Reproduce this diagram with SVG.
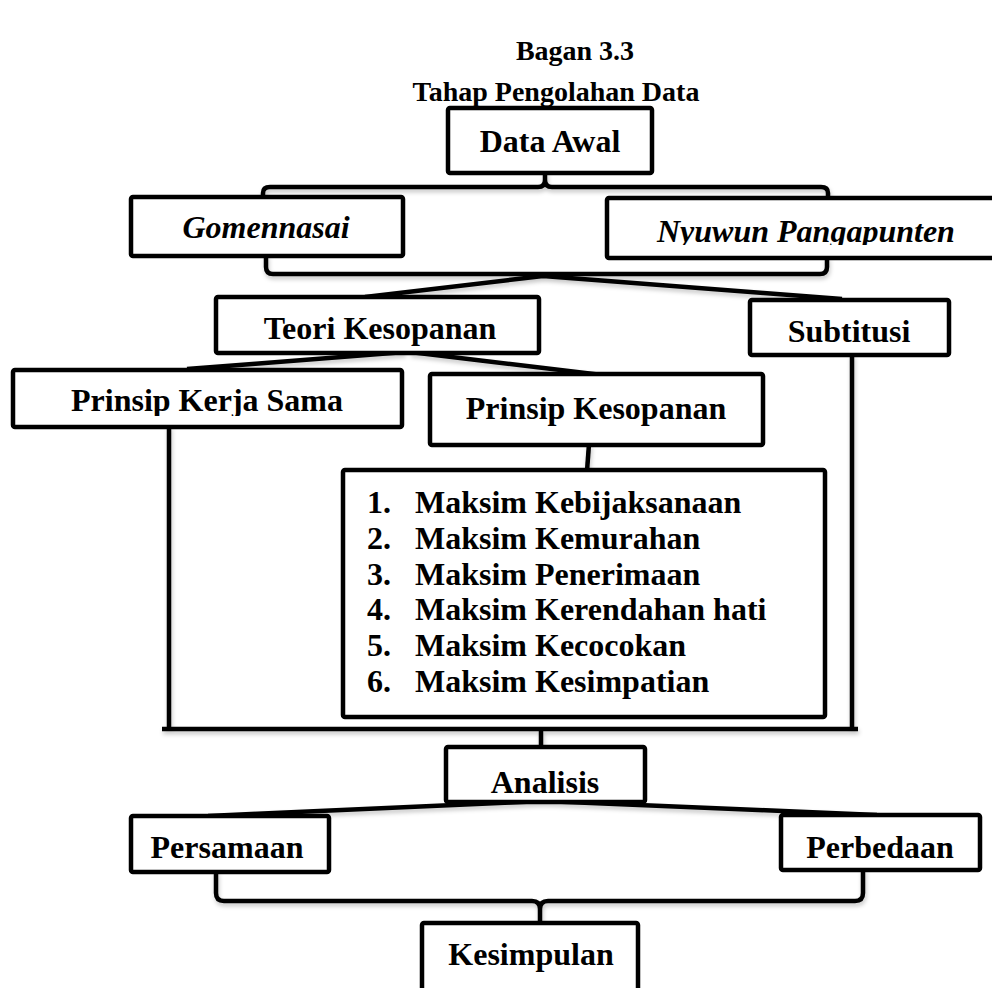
<svg xmlns="http://www.w3.org/2000/svg" width="992" height="988" viewBox="0 0 992 988">
<style>
.box{fill:#fff;stroke:#000;stroke-width:4.5;stroke-linejoin:round}
.ln{fill:none;stroke:#000;stroke-width:4.5;stroke-linejoin:round;stroke-linecap:butt}
.t{font-family:"Liberation Serif","Times New Roman",serif;font-weight:bold;font-size:32px;fill:#000}
.c{text-anchor:middle}
.i{font-style:italic}
.title{font-size:28px}
</style>
<defs>
<filter id="sh" filterUnits="userSpaceOnUse" x="0" y="0" width="992" height="988">
<feDropShadow dx="1" dy="3" stdDeviation="2" flood-color="#000" flood-opacity="0.22"/>
</filter>
<clipPath id="clipNy"><rect x="600" y="190" width="400" height="55"/></clipPath>
<clipPath id="clipPk"><rect x="10" y="365" width="400" height="51"/></clipPath>
</defs>
<rect width="992" height="988" fill="#fff"/>

<g id="title">
<text class="t title c" x="575" y="60">Bagan 3.3</text>
<text class="t title c" x="556" y="101">Tahap Pengolahan Data</text>
</g>

<g id="connectors" filter="url(#sh)">
<path class="ln" d="M263,199 V193 Q263,187 270,187 H538 Q545,187 545,180 V172 M545,180 Q545,187 552,187 H821 Q828,187 828,193 V199"/>
<path class="ln" d="M266,255 V267 Q266,274 273,274 H820 Q827,274 827,267 V257"/>
<path class="ln" d="M543,276 L365,297 M543,276 L842,299"/>
<path class="ln" d="M405,352 L187,369 M410,352 L602,375"/>
<path class="ln" d="M589,444 L587,471"/>
<path class="ln" d="M169,426 V729 M162,729 H858 M852,354 V731"/>
<path class="ln" d="M541,729 V748"/>
<path class="ln" d="M543,801 L208,816 M543,801 L877,815"/>
<path class="ln" d="M216,871 V893 Q216,901 224,901 H532 Q540,901 540,909 V924 M540,909 Q540,901 548,901 H855 Q863,901 863,893 V869"/>
</g>

<g id="data-awal">
<rect class="box" x="448" y="108" width="204" height="65" rx="2"/>
<text class="t c" x="550" y="152">Data Awal</text>
</g>

<g id="gomennasai">
<rect class="box" x="131" y="197" width="272" height="59" rx="2"/>
<text class="t c i" x="266" y="238">Gomennasai</text>
</g>

<g id="nyuwun-pangapunten">
<rect class="box" x="607" y="198" width="400" height="60" rx="2"/>
<text class="t i" x="657" y="242" clip-path="url(#clipNy)">Nyuwun Pangapunten</text>
</g>

<g id="teori-kesopanan">
<rect class="box" x="216" y="297" width="323" height="56" rx="2"/>
<text class="t c" x="380" y="339">Teori Kesopanan</text>
</g>

<g id="subtitusi">
<rect class="box" x="750" y="300" width="199" height="55" rx="2"/>
<text class="t c" x="849" y="342">Subtitusi</text>
</g>

<g id="prinsip-kerja-sama">
<rect class="box" x="13" y="370" width="389" height="57" rx="2"/>
<text class="t c" x="207" y="411" clip-path="url(#clipPk)">Prinsip Kerja Sama</text>
</g>

<g id="prinsip-kesopanan">
<rect class="box" x="430" y="374" width="333" height="71" rx="2"/>
<text class="t c" x="596" y="419">Prinsip Kesopanan</text>
</g>

<g id="maksim-list">
<rect class="box" x="343" y="470" width="482" height="247" rx="2"/>
<text class="t" x="367" y="513">1.</text><text class="t" x="415" y="513">Maksim Kebijaksanaan</text>
<text class="t" x="367" y="549">2.</text><text class="t" x="415" y="549">Maksim Kemurahan</text>
<text class="t" x="367" y="585">3.</text><text class="t" x="415" y="585">Maksim Penerimaan</text>
<text class="t" x="367" y="620">4.</text><text class="t" x="415" y="620">Maksim Kerendahan hati</text>
<text class="t" x="367" y="656">5.</text><text class="t" x="415" y="656">Maksim Kecocokan</text>
<text class="t" x="367" y="692">6.</text><text class="t" x="415" y="692">Maksim Kesimpatian</text>
</g>

<g id="analisis">
<rect class="box" x="446" y="747" width="199" height="55" rx="2"/>
<text class="t c" x="545" y="793">Analisis</text>
</g>

<g id="persamaan">
<rect class="box" x="131" y="816" width="198" height="56" rx="2"/>
<text class="t c" x="227" y="858">Persamaan</text>
</g>

<g id="perbedaan">
<rect class="box" x="781" y="815" width="199" height="55" rx="2"/>
<text class="t c" x="880" y="858">Perbedaan</text>
</g>

<g id="kesimpulan">
<rect class="box" x="422" y="923" width="216" height="80" rx="2"/>
<text class="t c" x="531" y="965">Kesimpulan</text>
</g>
</svg>
